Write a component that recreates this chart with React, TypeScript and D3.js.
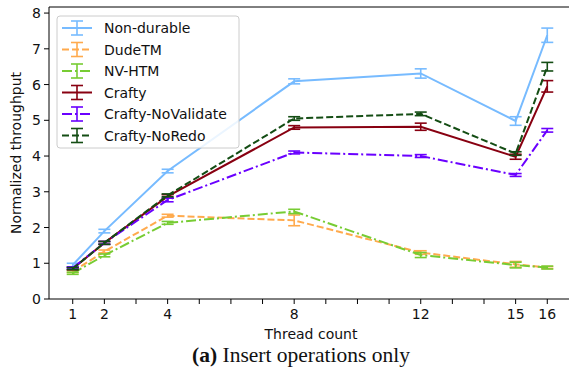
import React from "react";
import * as d3 from "d3";

const threads = [1, 2, 4, 8, 12, 15, 16];
const xTickLabels = [1, 2, 4, 8, 12, 15, 16];
const yTicks = [0, 1, 2, 3, 4, 5, 6, 7, 8];
const seriesNames = ["Non-durable", "DudeTM", "NV-HTM", "Crafty", "Crafty-NoValidate", "Crafty-NoRedo"];
const nonDurable = [0.95, 1.9, 3.58, 6.09, 6.31, 4.98, 7.38];
const nonDurableErr = [0.05, 0.05, 0.05, 0.07, 0.13, 0.12, 0.2];
const dudeTM = [0.77, 1.33, 2.33, 2.2, 1.3, 0.97, 0.88];
const dudeTMErr = [0.03, 0.04, 0.04, 0.15, 0.05, 0.08, 0.03];
const nvHTM = [0.72, 1.22, 2.13, 2.45, 1.23, 0.95, 0.88];
const nvHTMErr = [0.03, 0.04, 0.04, 0.06, 0.07, 0.08, 0.04];
const crafty = [0.85, 1.57, 2.87, 4.8, 4.82, 3.98, 5.95];
const craftyErr = [0.03, 0.04, 0.05, 0.05, 0.1, 0.07, 0.16];
const noValidate = [0.87, 1.57, 2.77, 4.1, 4.0, 3.47, 4.72];
const noValidateErr = [0.03, 0.04, 0.05, 0.04, 0.04, 0.04, 0.05];
const noRedo = [0.85, 1.57, 2.9, 5.05, 5.18, 4.07, 6.5];
const noRedoErr = [0.03, 0.04, 0.04, 0.05, 0.05, 0.05, 0.12];

const colors = ["#77bbff", "#ffaa4d", "#77cc33", "#880011", "#6a00ff", "#144d14"];
const dashes = ["", "7,3", "10,3,2,3", "", "10,3,2,3", "7,3"];

const seriesValues = [nonDurable, dudeTM, nvHTM, crafty, noValidate, noRedo];
const seriesErrs = [nonDurableErr, dudeTMErr, nvHTMErr, craftyErr, noValidateErr, noRedoErr];

const W = 569, H = 374;
const left = 49, top = 7, bottom = 299, right = 571;

export default function App() {
  const x = d3.scaleLinear().domain([0.25, 16.75]).range([left, right]);
  const y = d3.scaleLinear().domain([0, 8.17]).range([bottom, top]);
  const line = d3.line<number>().x((_, i) => x(threads[i])).y((d) => y(d));
  const font = "DejaVu Sans, sans-serif";
  const fs = 14;
  const cap = 6;
  const allTicks = d3.range(1, 17);

  return (
    <svg width={W} height={H} style={{ position: "absolute", left: 0, top: 0 }}>
      <rect width={W} height={H} fill="white" />
      {seriesValues.map((vals, si) => (
        <g key={si}>
          <path d={line(vals) || ""} fill="none" stroke={colors[si]} strokeWidth={2} strokeDasharray={dashes[si]} />
          {vals.map((v, i) => {
            const e = seriesErrs[si][i];
            const cx = x(threads[i]);
            return (
              <g key={i} stroke={colors[si]} strokeWidth={1.6}>
                <line x1={cx} x2={cx} y1={y(v - e)} y2={y(v + e)} />
                <line x1={cx - cap} x2={cx + cap} y1={y(v - e)} y2={y(v - e)} />
                <line x1={cx - cap} x2={cx + cap} y1={y(v + e)} y2={y(v + e)} />
              </g>
            );
          })}
        </g>
      ))}
      {/* axes */}
      <line x1={left} x2={left} y1={top} y2={bottom} stroke="#000" strokeWidth={1} />
      <line x1={left} x2={right} y1={top} y2={top} stroke="#000" strokeWidth={1} />
      <line x1={left} x2={right} y1={bottom} y2={bottom} stroke="#000" strokeWidth={1} />
      {yTicks.map((t) => (
        <g key={t}>
          <line x1={left - 5} x2={left} y1={y(t)} y2={y(t)} stroke="#000" />
          <text x={left - 8} y={y(t)} dy="0.36em" textAnchor="end" fontFamily={font} fontSize={fs} fill="#111">{t}</text>
        </g>
      ))}
      {allTicks.map((t) => (
        <line key={t} x1={x(t)} x2={x(t)} y1={bottom} y2={bottom + 5} stroke="#000" />
      ))}
      {xTickLabels.map((t) => (
        <text key={t} x={x(t)} y={bottom + 20} textAnchor="middle" fontFamily={font} fontSize={fs} fill="#111">{t}</text>
      ))}
      <text x={311} y={339} textAnchor="middle" fontFamily={font} fontSize={fs} fill="#111">Thread count</text>
      <text transform={`translate(21,${153}) rotate(-90)`} textAnchor="middle" fontFamily={font} fontSize={fs} fill="#111">Normalized throughput</text>
      <text x={301} y={362} textAnchor="middle" fontFamily="Liberation Serif, serif" fontSize={21.5} fill="#111">
        <tspan fontWeight="bold">(a)</tspan> Insert operations only
      </text>
      {/* legend */}
      <rect x={57} y={16} width={182} height={132} rx={3} fill="white" fillOpacity={0.85} stroke="#ccc" strokeWidth={1} />
      {seriesNames.map((name, i) => {
        const ly = 28 + i * 21.5;
        return (
          <g key={name}>
            <line x1={62} x2={92} y1={ly} y2={ly} stroke={colors[i]} strokeWidth={2} strokeDasharray={dashes[i]} />
            <g stroke={colors[i]} strokeWidth={1.6}>
              <line x1={77} x2={77} y1={ly - 7} y2={ly + 7} />
              <line x1={77 - cap} x2={77 + cap} y1={ly - 7} y2={ly - 7} />
              <line x1={77 - cap} x2={77 + cap} y1={ly + 7} y2={ly + 7} />
            </g>
            <text x={104} y={ly} dy="0.36em" fontFamily={font} fontSize={fs} fill="#111">{name}</text>
          </g>
        );
      })}
    </svg>
  );
}
